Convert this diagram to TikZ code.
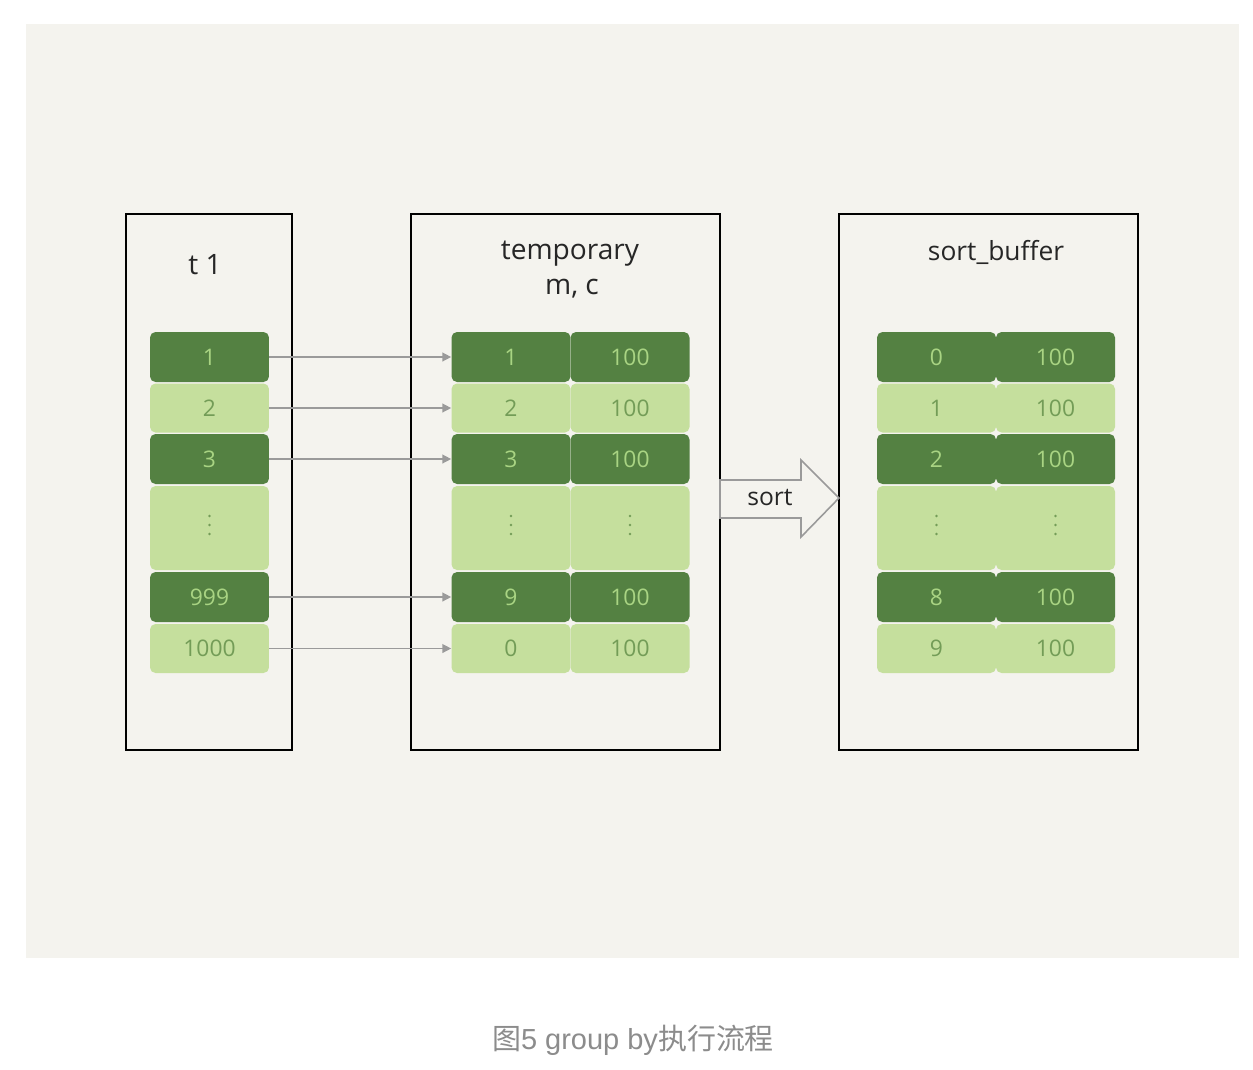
\documentclass[tikz,border=0pt]{standalone}
\usepackage{fontspec}
\setmainfont{Open Sans}
\newfontfamily\cjk{Noto Sans CJK SC}
\newfontfamily\capsans{Liberation Sans}
\usetikzlibrary{arrows.meta,calc}
\definecolor{bgpanel}{HTML}{F4F3EE}
\definecolor{darkcell}{HTML}{548142}
\definecolor{lightcell}{HTML}{C5DF9D}
\definecolor{darktext}{HTML}{A9D483}
\definecolor{lighttext}{HTML}{739C57}
\definecolor{linkgray}{HTML}{9A9A9A}
\definecolor{captiongray}{HTML}{8C8C8C}
\begin{document}
\begin{tikzpicture}[x=0.02cm,y=-0.02cm,
  tablebox/.style={draw=black,line width=1.2pt},
  title/.style={font=\fontsize{16}{18}\selectfont,text=black!85},
  cellbase/.style={rounded corners=0.11cm,inner sep=0pt,minimum width=2.38cm,font=\fontsize{13}{15}\selectfont},
  dcell/.style={cellbase,fill=darkcell,text=darktext},
  lcell/.style={cellbase,fill=lightcell,text=lighttext},
  rowA/.style={minimum height=1.0cm},
  rowB/.style={minimum height=0.98cm},
  rowC/.style={minimum height=1.68cm},
  link/.style={draw=linkgray,line width=0.8pt,-{Triangle[length=5pt,width=5pt]}},
  sortarrow/.style={draw=linkgray,line width=0.9pt,fill=bgpanel,line join=miter},
  ellipsisdot/.style={fill=lighttext}
]
\useasboundingbox (0,0) rectangle (1253,1069);
\fill[white] (0,0) rectangle (1253,1069);
\fill[bgpanel] (26,24) rectangle (1239,958);

% table outlines
\draw[tablebox] (126,214) rectangle (292,750);
\draw[tablebox] (411,214) rectangle (720,750);
\draw[tablebox] (839,214) rectangle (1138,750);

% titles
\node[title] (tt1) at (205,265) {t 1};
\node[title] (ttmp) at (570,254) {temporary};
\node[title] (tcols) at (572,289) {m, c};
\node[title,font=\fontsize{15}{17}\selectfont] (tsort) at (996,252) {sort\_buffer};

% t1 column
\node[dcell,rowA] (a1) at (209.5,357) {1};
\node[lcell,rowB] (a2) at (209.5,408) {2};
\node[dcell,rowA] (a3) at (209.5,459) {3};
\node[lcell,rowC] (a4) at (209.5,528) {};
\node[dcell,rowA] (a5) at (209.5,597) {999};
\node[lcell,rowB] (a6) at (209.5,648.5) {1000};

% temporary table: m and c
\node[dcell,rowA] (m1) at (511,357) {1};
\node[lcell,rowB] (m2) at (511,408) {2};
\node[dcell,rowA] (m3) at (511,459) {3};
\node[lcell,rowC] (m4) at (511,528) {};
\node[dcell,rowA] (m5) at (511,597) {9};
\node[lcell,rowB] (m6) at (511,648.5) {0};
\node[dcell,rowA] (c1) at (630,357) {100};
\node[lcell,rowB] (c2) at (630,408) {100};
\node[dcell,rowA] (c3) at (630,459) {100};
\node[lcell,rowC] (c4) at (630,528) {};
\node[dcell,rowA] (c5) at (630,597) {100};
\node[lcell,rowB] (c6) at (630,648.5) {100};

% sort_buffer: m and c
\node[dcell,rowA] (s1) at (936.5,357) {0};
\node[lcell,rowB] (s2) at (936.5,408) {1};
\node[dcell,rowA] (s3) at (936.5,459) {2};
\node[lcell,rowC] (s4) at (936.5,528) {};
\node[dcell,rowA] (s5) at (936.5,597) {8};
\node[lcell,rowB] (s6) at (936.5,648.5) {9};
\node[dcell,rowA] (d1) at (1055.5,357) {100};
\node[lcell,rowB] (d2) at (1055.5,408) {100};
\node[dcell,rowA] (d3) at (1055.5,459) {100};
\node[lcell,rowC] (d4) at (1055.5,528) {};
\node[dcell,rowA] (d5) at (1055.5,597) {100};
\node[lcell,rowB] (d6) at (1055.5,648.5) {100};

% vertical ellipsis in the elided rows
\foreach \n in {a4,m4,c4,s4,d4}
  \foreach \dy in {-12,-3,6}
    \fill[ellipsisdot] ($(\n.center)+(0,\dy)$) circle (0.75pt);

% rows copied from t1 into the temporary table
\foreach \i in {1,2,3,5,6}
  \draw[link] (a\i.east) -- (m\i.west);

% sort step
\draw[sortarrow] (720,480) -- (801,480) -- (801,460) -- (839,498)
  -- (801,537) -- (801,518) -- (720,518) -- cycle;
\node[title,font=\fontsize{14}{16}\selectfont] (sortlbl) at (770,498) {sort};

% caption
\node[text=captiongray,font=\fontsize{16.5}{20}\selectfont,inner sep=0pt] (cap) at (633,1040)
  {{\cjk 图}{\capsans 5 group by}{\cjk 执行流程}};
\end{tikzpicture}
\end{document}
